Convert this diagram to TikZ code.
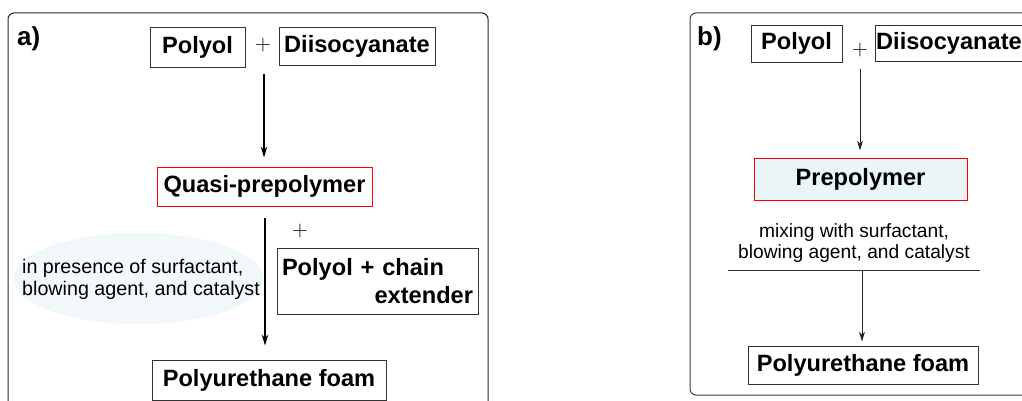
\documentclass[tikz,border=0pt]{standalone}
\usepackage{fontspec}
\setmainfont{Liberation Sans}
\newfontfamily\lmplus{Latin Modern Roman}
\usetikzlibrary{arrows.meta}
\definecolor{paleblue}{RGB}{234,245,248}
\definecolor{glowin}{RGB}{243,249,251}
\definecolor{glowout}{RGB}{218,237,242}
\pgfdeclareradialshading{glow}{\pgfpoint{0bp}{0bp}}{color(0bp)=(glowin); color(20bp)=(glowin); color(50bp)=(glowout); color(100bp)=(glowout)}
\begin{document}
\begin{tikzpicture}[x=1pt,y=-1pt,
  box/.style={draw=black!80, line width=0.9pt, inner sep=0pt, align=center,
    font=\bfseries\fontsize{23.6}{28}\selectfont},
  redbox/.style={box, draw=red},
  panel/.style={rounded corners=6pt, line width=1pt},
  plus/.style={font=\lmplus\fontsize{22}{22}\selectfont, inner sep=0pt},
  lbl/.style={font=\bfseries\fontsize{26}{26}\selectfont, inner sep=0pt},
  note/.style={font=\fontsize{19.7}{22}\selectfont, inner sep=0pt},
  arrA/.style={line width=1.6pt, -{Stealth[length=11pt,width=6.5pt]}},
  arrB/.style={line width=1pt, draw=black!85, -{Stealth[length=10pt,width=6pt]}}]
\clip (0,0) rectangle (1022,401);
\fill[white] (0,0) rectangle (1022,401);
% ---------- panel a ----------
\draw[panel, draw=black!85] (8,13) rectangle (488,430);
\node[lbl, anchor=north west] (la) at (17,26) {a)};
\node[box, minimum width=95pt, minimum height=40pt] (polA) at (197.5,47) {Polyol};
\node[plus] (plusA) at (263,45) {+};
\node[box, minimum width=156pt, minimum height=38pt] (diA) at (357,46) {Diisocyanate};
\coordinate (a1) at (264,74);
\node[redbox, minimum width=215pt, minimum height=39pt] (quasi) at (264.5,186.5) {Quasi-prepolymer};
\draw[arrA, shorten >=9pt] (a1) -- (a1 |- quasi.north);
\shade[shading=glow] (138.5,278.5) ellipse (124.5 and 45.5);
\node[note, align=left, anchor=west] (condA) at (22,279) {in presence of surfactant,\\blowing agent, and catalyst};
\node[plus] (plusA2) at (300,231) {+};
\node[box, minimum width=201pt, minimum height=66pt, text width=191pt, align=left] (chain) at (377.5,281) {Polyol + chain\\\hspace*{\fill}extender};
\node[box, minimum width=234pt, minimum height=40pt] (foamA) at (269,380) {Polyurethane foam};
\coordinate (a2) at (265,218);
\draw[arrA, shorten >=14pt] (a2) -- (a2 |- foamA.north);
% ---------- panel b ----------
\draw[panel, draw=black!75] (690,13) rectangle (1050,395);
\node[lbl, anchor=north west] (lb) at (697,26) {b)};
\node[box, minimum width=91pt, minimum height=37pt] (polB) at (796.5,43.5) {Polyol};
\node[plus] (plusB) at (860,50) {+};
\node[box, minimum width=147pt, minimum height=36pt, anchor=west] (diB) at (875,43) {Diisocyanate};
\coordinate (b1) at (860,69);
\node[redbox, fill=paleblue, minimum width=213pt, minimum height=42pt] (pre) at (860.5,179) {Prepolymer};
\draw[arrB, shorten >=7pt] (b1) -- (b1 |- pre.north);
\node[note, align=center, font=\fontsize{19.2}{21}\selectfont] (condB) at (854,243) {mixing with surfactant,\\blowing agent, and catalyst};
\coordinate (hl) at (728,270);
\coordinate (hr) at (980,270);
\draw[line width=1pt, draw=black!80] (hl) -- (hr);
\coordinate (b2) at (862,270);
\node[box, minimum width=230pt, minimum height=38pt] (foamB) at (863,365) {Polyurethane foam};
\draw[arrB, shorten >=4pt] (b2) -- (b2 |- foamB.north);
\end{tikzpicture}
\end{document}
